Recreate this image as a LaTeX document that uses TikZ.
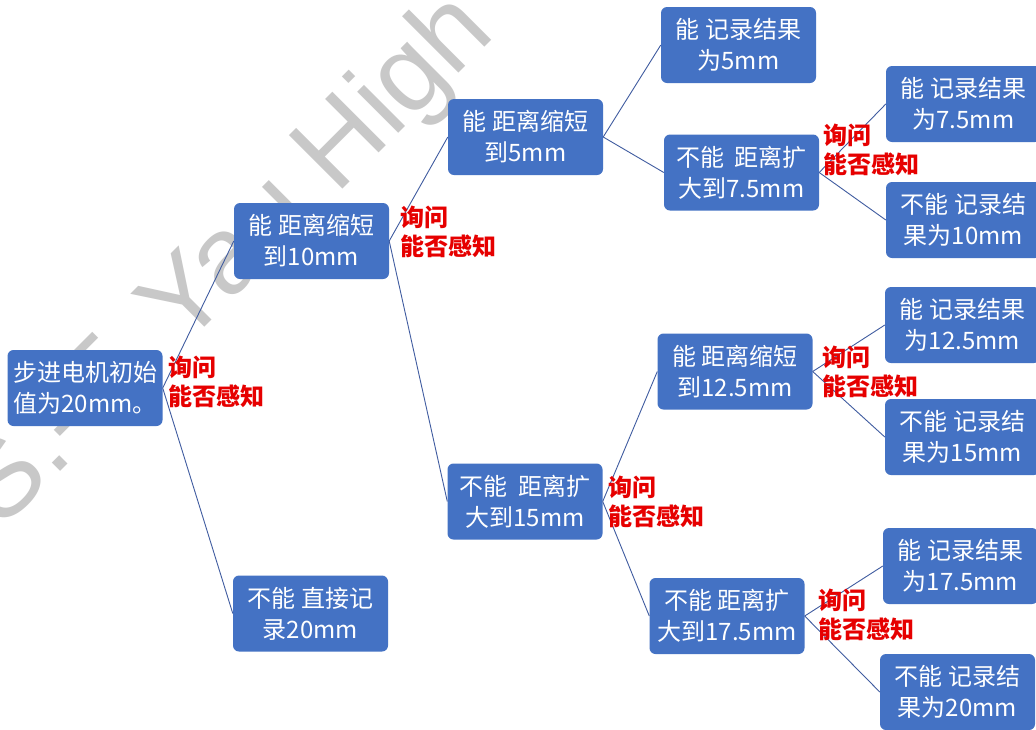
\documentclass[tikz,border=0pt]{standalone}
\usepackage{fontspec}
\setmainfont{Noto Sans CJK SC}
\newfontfamily\wmfont{Liberation Sans}
\definecolor{boxblue}{RGB}{68,114,196}
\definecolor{linkblue}{RGB}{64,92,160}
\definecolor{wmgray}{RGB}{200,200,200}
\definecolor{askred}{RGB}{230,0,0}
\tikzset{
  stepbox/.style={rectangle, rounded corners=6pt, fill=boxblue, text=white,
    minimum width=155pt, minimum height=76pt, inner sep=0pt, align=center,
    font=\fontsize{24}{31}\selectfont},
  asklabel/.style={anchor=west, inner sep=0pt, align=left, text=askred,
    font=\bfseries\fontsize{24}{29}\selectfont},
  conn/.style={draw=linkblue, line width=0.9pt}
}
\begin{document}
\begin{tikzpicture}[x=1pt,y=-1pt]
\useasboundingbox (0,0) rectangle (1036,729);
\clip (0,0) rectangle (1036,729);
\fill[white] (0,0) rectangle (1036,729);
% watermark
\node[anchor=base east, rotate=45, inner sep=0pt, text=wmgray,
  font=\wmfont\fontsize{110}{110}\selectfont] (wm) at (497,35) {S.-T. Yau High};
% boxes
\node[stepbox] (R)  at (85,388)    {步进电机初始\\值为20mm。};
\node[stepbox] (B1) at (311.5,241) {能 距离缩短\\到10mm};
\node[stepbox] (B2) at (310.5,613.5) {不能 直接记\\录20mm};
\node[stepbox] (C1) at (525.5,137) {能 距离缩短\\到5mm};
\node[stepbox] (C2) at (525,501.5) {不能\ \ 距离扩\\大到15mm};
\node[stepbox] (D1) at (738.5,45)  {能 记录结果\\为5mm};
\node[stepbox] (D2) at (741.5,172.5) {不能\ \ 距离扩\\大到7.5mm};
\node[stepbox] (E1) at (963.5,104) {能 记录结果\\为7.5mm};
\node[stepbox] (E2) at (963.5,220) {不能 记录结\\果为10mm};
\node[stepbox] (D3) at (735,371.5) {能 距离缩短\\到12.5mm};
\node[stepbox] (E3) at (962.5,325) {能 记录结果\\为12.5mm};
\node[stepbox] (E4) at (962.5,437) {不能 记录结\\果为15mm};
\node[stepbox] (D4) at (727,616)   {不能 距离扩\\大到17.5mm};
\node[stepbox] (E5) at (960.5,566) {能 记录结果\\为17.5mm};
\node[stepbox] (E6) at (957.5,692) {不能 记录结\\果为20mm};
% connectors
\draw[conn] (R.east) -- (B1.west);
\draw[conn] (R.east) -- (B2.west);
\draw[conn] (B1.east) -- (C1.west);
\draw[conn] (B1.east) -- (C2.west);
\draw[conn] (C1.east) -- (D1.west);
\draw[conn] (C1.east) -- (D2.west);
\draw[conn] (D2.east) -- (E1.west);
\draw[conn] (D2.east) -- (E2.west);
\draw[conn] (C2.east) -- (D3.west);
\draw[conn] (C2.east) -- (D4.west);
\draw[conn] (D3.east) -- (E3.west);
\draw[conn] (D3.east) -- (E4.west);
\draw[conn] (D4.east) -- (E5.west);
\draw[conn] (D4.east) -- (E6.west);
% labels
\node[asklabel] (LR)  at (168,382)   {询问\\能否感知};
\node[asklabel] (LB1) at (400,231.5) {询问\\能否感知};
\node[asklabel] (LD2) at (823,150)   {询问\\能否感知};
\node[asklabel] (LC2) at (608,502)   {询问\\能否感知};
\node[asklabel] (LD3) at (822,372)   {询问\\能否感知};
\node[asklabel] (LD4) at (818,615)   {询问\\能否感知};
\end{tikzpicture}
\end{document}
